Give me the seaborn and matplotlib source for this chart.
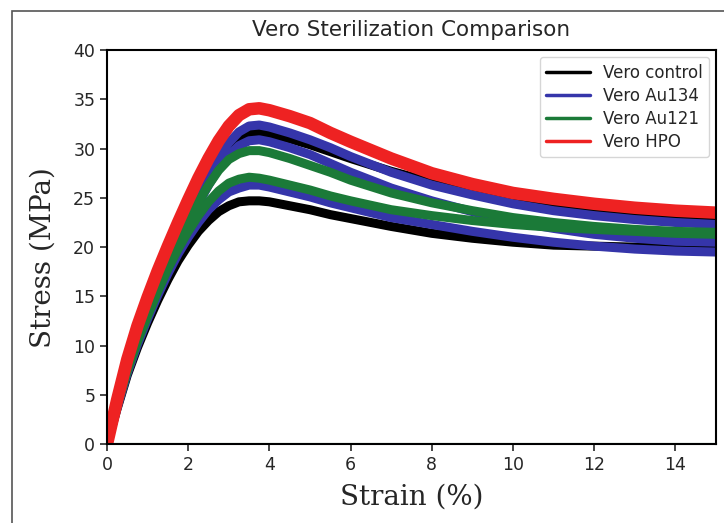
import matplotlib
matplotlib.use('Agg')
import matplotlib.pyplot as plt
import seaborn as sns
import pandas as pd
from matplotlib.lines import Line2D
from matplotlib.patches import Rectangle

# strain grid (%)
strain = [0, 0.25, 0.5, 0.75, 1, 1.25, 1.5, 1.75, 2, 2.25, 2.5, 2.75, 3, 3.25, 3.5,
          3.75, 4, 4.5, 5, 5.5, 6, 7, 8, 9, 10, 11, 12, 13, 14, 15]

# stress (MPa), one list per specimen
control_hi = [0, 4.0, 7.6, 10.7, 13.4, 15.9, 18.3, 20.5, 22.6, 24.7, 26.6, 28.4, 29.9, 31.0, 31.6,
              31.7, 31.5, 31.0, 30.4, 29.7, 29.0, 27.7, 26.6, 25.7, 24.8, 24.2, 23.8, 23.4, 23.1, 22.8]
control_lo = [0, 3.6, 7.0, 9.8, 12.3, 14.6, 16.7, 18.6, 20.2, 21.6, 22.7, 23.6, 24.2, 24.6, 24.7,
              24.7, 24.6, 24.2, 23.8, 23.3, 22.9, 22.1, 21.4, 20.9, 20.5, 20.2, 20.1, 20.0, 20.0, 20.0]
au134_a = [0, 4.1, 7.8, 10.9, 13.6, 16.1, 18.5, 20.8, 23.0, 25.2, 27.3, 29.1, 30.6, 31.7, 32.3,
           32.4, 32.2, 31.6, 30.9, 30.1, 29.2, 27.6, 26.3, 25.3, 24.4, 23.7, 23.2, 22.8, 22.5, 22.3]
au134_b = [0, 3.9, 7.5, 10.5, 13.2, 15.7, 18.0, 20.2, 22.3, 24.4, 26.3, 28.0, 29.3, 30.3, 30.8,
           30.9, 30.7, 30.1, 29.4, 28.5, 27.6, 26.0, 24.7, 23.6, 22.6, 21.9, 21.3, 20.9, 20.6, 20.5]
au134_c = [0, 3.7, 7.2, 10.1, 12.7, 15.1, 17.3, 19.3, 21.0, 22.5, 23.8, 24.8, 25.6, 26.0, 26.3,
           26.3, 26.1, 25.6, 25.1, 24.5, 24.0, 23.0, 22.3, 21.6, 21.0, 20.5, 20.1, 19.8, 19.6, 19.5]
au121_a = [0, 4.0, 7.7, 10.8, 13.5, 16.0, 18.4, 20.6, 22.6, 24.6, 26.3, 27.8, 28.9, 29.5, 29.8,
           29.8, 29.6, 29.0, 28.3, 27.6, 26.8, 25.5, 24.5, 23.7, 23.0, 22.5, 22.1, 21.8, 21.6, 21.5]
au121_b = [0, 3.9, 7.4, 10.4, 13.0, 15.5, 17.8, 19.8, 21.6, 23.2, 24.6, 25.7, 26.5, 26.9, 27.1,
           27.0, 26.8, 26.3, 25.8, 25.2, 24.7, 23.8, 23.2, 22.7, 22.3, 22.0, 21.8, 21.6, 21.4, 21.3]
hpo = [0, 4.5, 8.6, 12.0, 14.9, 17.6, 20.1, 22.5, 24.8, 27.0, 29.0, 30.8, 32.3, 33.4, 34.0,
       34.1, 33.9, 33.3, 32.6, 31.6, 30.7, 29.0, 27.5, 26.4, 25.5, 24.9, 24.4, 24.0, 23.7, 23.5]

# post-fracture trace lying on zero
zero_strain = [0, 15]
zero_stress = [0, 0]

labels = ['Vero control', 'Vero Au134', 'Vero Au121', 'Vero HPO']
colors = ['#000000', '#3535aa', '#1b7a38', '#ee2222']

groups = [
    (0, [control_hi, control_lo]),
    (1, [au134_a, au134_b, au134_c]),
    (2, [au121_a, au121_b]),
    (3, [hpo]),
]

sns.set_style('ticks')
plt.rcParams['font.family'] = ['DejaVu Sans']

fig = plt.figure(figsize=(7.24, 5.23), dpi=100)
ax = fig.add_axes([0.1478, 0.151, 0.8412, 0.753])

# outer frame of the figure
fig.patches.append(Rectangle((12 / 724, -0.05), 1.1, 1 - 11 / 523 + 0.05,
                             transform=fig.transFigure, fill=False,
                             edgecolor='#555555', linewidth=1.2))

sns.lineplot(x=zero_strain, y=zero_stress, color=colors[2], linewidth=1.5, ax=ax)

for idx, curves in groups:
    for c in curves:
        df = pd.DataFrame({'strain': strain, 'stress': c})
        lw = 9 if idx == 3 else 6.5
        sns.lineplot(data=df, x='strain', y='stress', color=colors[idx],
                     linewidth=lw, sort=False, estimator=None, ax=ax)

ax.set_xlim(0, 15)
ax.set_ylim(0, 40)
ax.set_xticks([0, 2, 4, 6, 8, 10, 12, 14])
ax.set_yticks([0, 5, 10, 15, 20, 25, 30, 35, 40])
ax.tick_params(labelsize=12.5, length=5, width=1.2)
for s in ax.spines.values():
    s.set_visible(True)
    s.set_linewidth(1.5)
    s.set_color('black')

ax.set_xlabel('Strain (%)', family='DejaVu Serif', fontsize=20, labelpad=7)
ax.set_ylabel('Stress (MPa)', family='DejaVu Serif', fontsize=20)
ax.yaxis.set_label_coords(-0.082, 0.473)
ax.set_title('Vero Sterilization Comparison', fontsize=15.5, pad=10)

handles = [Line2D([0], [0], color=c, linewidth=2.5) for c in colors]
ax.legend(handles, labels, loc='upper right', fontsize=12, frameon=True,
          borderaxespad=0.4, labelspacing=0.3, handlelength=2.6)

fig.savefig('out.png', dpi=100)
